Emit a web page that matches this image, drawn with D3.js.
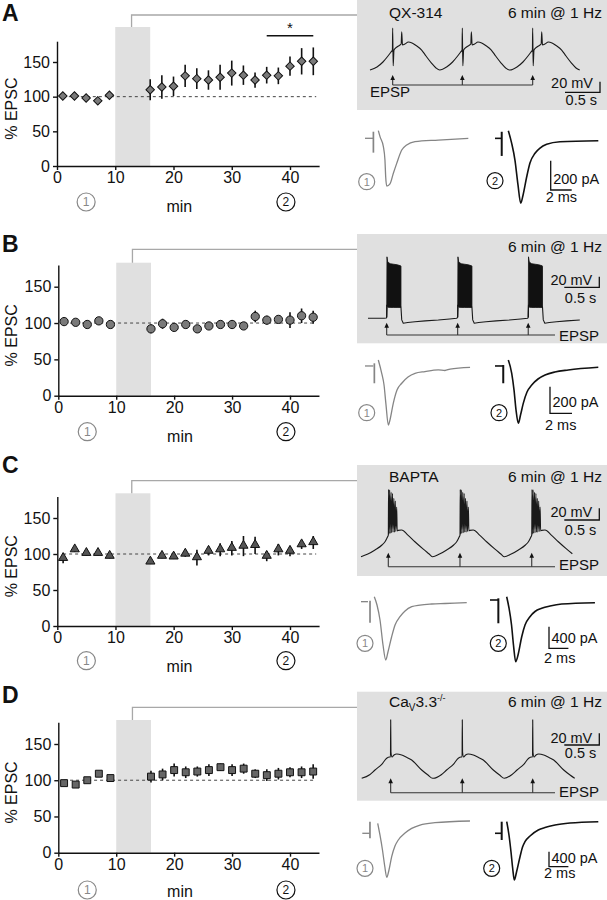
<!DOCTYPE html>
<html><head><meta charset="utf-8">
<script src="https://cdn.jsdelivr.net/npm/d3@7/dist/d3.min.js"></script>
<style>
body{margin:0;background:#fff}
svg{display:block}
text{font-family:"Liberation Sans",Arial,Helvetica,sans-serif;fill:#111}
</style>
</head><body>
<svg id="c" width="607" height="900"></svg>
<script>
// ================= DATA =================
const minutes = [1,3,5,7,9,16,18,20,22,24,26,28,30,32,34,36,38,40,42,44];
const epscQX    = [101,101,98,94,102,110,114,115,130,126,124,128,134,131,124,131,130,144,151,151];
const semQX     = [3,3,3,3,3,15,17,14,16,15,14,18,18,14,11,12,12,14,19,20];
const epscCtrl  = [102,101,98,103,98,92,99,94,98,92,96,98,98,96,109,104,105,104,110,108];
const semCtrl   = [3,3,3,3,3,6,7,4,4,4,4,4,6,4,8,6,5,11,10,9];
const epscBAPTA = [94,106,101,101,97,89,97,96,100,95,104,106,108,111,112,97,106,104,113,116];
const semBAPTA  = [7,3,3,3,3,3,3,3,4,11,6,9,10,14,12,7,8,7,6,9];
const epscCav   = [96,94,100,109,103,105,108,114,111,112,114,118,114,116,109,107,109,111,111,112];
const semCav    = [3,3,3,3,3,8,8,9,8,7,8,5,8,7,6,8,8,7,8,10];

const xTicks = [0,10,20,30,40];
const yTicks = [0,50,100,150];
const stimWindow = [10,16];      // min, 6 min @ 1 Hz
const sigRange = [36,44];        // * bar in A
const panelLabels = ['A','B','C','D'];
const conditionLabels = ['QX-314','','BAPTA','CaV3.3'];
const stimText = '6 min @ 1 Hz';

// membrane potential templates [s relative to EPSP, mV]
const cycleQX = [[-0.324,-70],[-0.224,-64.3],[-0.139,-54.9],[-0.067,-43.6],[-0.024,-36],[-0.004,-32.3],[0,9],[0.007,-62],[0.019,-32.3],[0.061,-26.6],[0.104,-22.8],[0.121,-20.9],[0.129,2],[0.14,-22.8],[0.176,-21],[0.223,-17.2],[0.276,-19],[0.333,-23.8],[0.414,-32.3],[0.476,-43.6],[0.557,-57.4],[0.619,-66.2],[0.672,-70]];
const spikesQX = [0.324,1.319,2.324];
const leadCtrl = [[0,-65],[0.23,-65],[0.262,-64.5]];
const cycleCtrl = [[0,-63],[0.004,-40],[0.2,-44],[0.204,-44],[0.215,-68],[0.237,-74.4],[0.3,-73],[0.404,-71.4],[0.55,-69.8],[0.737,-68.2],[0.9,-66.3],[1.0,-65]];
const burstCtrl = [[0,-63,-63],[0.004,51,-40],[0.015,41,-44],[0.05,38,-44.5],[0.1,37,-44.5],[0.15,36,-44.5],[0.2,34,-44],[0.204,33,-44]];
const spikesCtrl = [0.267,1.281,2.289];
const cycleBAPTA = [[-0.39,-70],[-0.3,-66],[-0.19,-58.5],[-0.09,-50],[-0.047,-44.4],[-0.01,-36],[0,-33],[0.004,45],[0.01,-31],[0.02,44],[0.027,-30],[0.04,40],[0.047,-29],[0.06,38],[0.067,-28],[0.08,30],[0.087,-28],[0.1,25],[0.107,-27],[0.12,15],[0.127,-26],[0.14,-25],[0.19,-24.4],[0.28,-33],[0.38,-44.4],[0.5,-57],[0.58,-65],[0.63,-70]];
const spikesBAPTA = [0.39,1.414,2.439];
const cycleCav = [[-0.414,-70],[-0.3,-64],[-0.224,-55.8],[-0.124,-45.6],[-0.057,-35.8],[-0.017,-33.6],[-0.003,-33.6],[0,30],[0.004,-25],[0.019,-33.6],[0.047,-30.2],[0.086,-28.5],[0.157,-30.2],[0.219,-33.6],[0.3,-38.7],[0.443,-55.8],[0.533,-64.4],[0.6,-70]];
const spikesCav = [0.414,1.437,2.443];

// EPSC traces [ms, pA]; stub = artifact, bar = [ms, top, bottom]
const epscA1 = {stub:[[0,0],[0.8,0]], bar:[0.8,45,-98], trace:[[1.27,52],[1.43,11],[1.75,-57],[1.9,-148],[1.97,-262],[2.07,-326],[2.38,-311],[2.7,-239],[3.02,-171],[3.5,-80],[3.97,-46],[4.76,-23],[6.98,-12],[9.84,0]]};
const epscA2 = {stub:[[0,16],[0.64,16]], bar:[0.64,61,-104], trace:[[1.27,68],[1.59,-18],[1.9,-132],[2.19,-302],[2.45,-427],[2.67,-372],[3.02,-246],[3.33,-152],[3.81,-86],[4.29,-50],[4.92,-25],[6.19,-7],[9.84,0]]};
const epscB1 = {stub:[[0,10],[0.75,10]], bar:[0.85,30,-120], trace:[[1.21,55],[1.52,-45],[1.73,-133],[1.91,-283],[2.12,-434],[2.27,-396],[2.57,-271],[2.91,-171],[3.34,-120],[3.91,-73],[4.55,-45],[5.45,-32],[6.66,-20],[7.27,-24],[7.73,-13],[9.55,0]]};
const epscB2 = {stub:[[0,10],[0.75,10]], bar:[0.75,17,-120], trace:[[1.21,55],[1.52,-45],[1.73,-171],[1.91,-320],[2.12,-421],[2.32,-359],[2.57,-271],[2.91,-186],[3.34,-133],[3.91,-88],[4.55,-58],[5.45,-35],[6.66,-20],[9.39,0]]};
const epscC1 = {stub:[[0,19],[0.72,19]], bar:[0.93,37,-370], trace:[[1.37,111],[1.65,-43],[1.96,-320],[2.27,-783],[2.55,-1061],[2.78,-913],[3.16,-630],[3.51,-413],[4.02,-259],[4.54,-154],[5.23,-74],[6.08,-43],[7.29,-24],[8.66,-15],[10.9,0]]};
const epscC2 = {stub:[[0,50],[0.86,50]], bar:[0.86,81,-381], trace:[[1.72,111],[1.96,-98],[2.22,-413],[2.42,-783],[2.65,-1093],[2.89,-969],[3.27,-630],[3.61,-413],[4.12,-259],[4.64,-163],[5.33,-104],[6.19,-61],[7.39,-24],[10.82,0]]};
const epscD1 = {stub:[[0,-328],[0.79,-328]], bar:[0.79,-19,-461], trace:[[1.59,-61],[1.82,-373],[2.08,-773],[2.31,-1200],[2.52,-1501],[2.75,-1307],[3.03,-952],[3.37,-667],[3.71,-507],[4.4,-320],[5.09,-195],[5.95,-107],[7.49,-45],[11.1,0]]};
const epscD2 = {stub:[[0,-309],[0.69,-309]], bar:[0.69,0,-488], trace:[[1.21,0],[1.44,-355],[1.65,-808],[1.82,-1235],[1.99,-1555],[2.22,-1341],[2.58,-933],[2.84,-675],[3.09,-533],[3.61,-381],[4.46,-221],[5.15,-155],[6.19,-88],[7.73,-35],[10.65,0]]};

// ================= LAYOUT =================
const BOX_L = 357, BOX_R = 607, PX_PER_S = 70;
const panels = [
 {label:'A', vals:epscQX, sem:semQX, shape:'diamond', fill:'#7a7a7a', labelY:21,
  x0:57, x40:290, y0:166, y150:62, barTop:27, connY:15, circY:202, minY:212, sig:true,
  box:[0,110], title:{y:18.3}, stimY:18.3,
  tr:{cycle:cycleQX, spikes:spikesQX, xStart:370, tEnd:3.0, vRef:-70, yRef:70, pxmv:0.53},
  arrows:{tip:75, base:85, toEnd:false, epspX:370, epspY:96.7},
  sb:{x:600, y:92.3, t1:88.3, t2:105},
  ep:{c1:epscA1, c2:epscA2, pxms:10.5, pxpa:0.1465, o1:[365,138.3], o2:[495,140.7], circ1:[366.7,181.7], circ2:[495,180.7], barX:550.7, barY:190, pA:200, tpA:184, tms:201.7}},
 {label:'B', vals:epscCtrl, sem:semCtrl, shape:'circle', fill:'#7a7a7a', labelY:252,
  x0:58.3, x40:290, y0:395.7, y150:286.7, barTop:262.7, connY:249.3, circY:431.7, minY:442, sig:false,
  box:[234,343.3], title:null, stimY:251.7,
  tr:{cycle:cycleCtrl, lead:leadCtrl, burst:burstCtrl, spikes:spikesCtrl, xStart:368, tEnd:3.05, vRef:-65, yRef:318.3, pxmv:0.53},
  arrows:{tip:322.7, base:335, toEnd:true, epspY:340.7},
  sb:{x:599.3, y:287.3, t1:285, t2:302.7},
  ep:{c1:epscB1, c2:epscB2, pxms:11, pxpa:0.133, o1:[365,367.3], o2:[495,367.3], circ1:[366.7,412.7], circ2:[499,412.7], barX:550, barY:413.3, pA:200, tpA:406.7, tms:430}},
 {label:'C', vals:epscBAPTA, sem:semBAPTA, shape:'triangle', fill:'#555', labelY:473,
  x0:57.3, x40:290, y0:626, y150:518, barTop:493.3, connY:480.7, circY:660.7, minY:672, sig:false,
  box:[465,576], title:{y:481.7}, stimY:481.7,
  tr:{cycle:cycleBAPTA, spikes:spikesBAPTA, xStart:361, tEnd:3.057, vRef:-70, yRef:556.7, pxmv:0.585},
  arrows:{tip:552.7, base:566.7, toEnd:true, epspY:570},
  sb:{x:599.3, y:520, t1:516.7, t2:535},
  ep:{c1:epscC1, c2:epscC2, pxms:9.7, pxpa:0.054, o1:[361,602.7], o2:[490,602.7], circ1:[365,643.3], circ2:[498.3,643.3], barX:549, barY:648.3, pA:400, tpA:643.3, tms:663.3}},
 {label:'D', vals:epscCav, sem:semCav, shape:'square', fill:'#666', labelY:703,
  x0:58.3, x40:290, y0:852.7, y150:744, barTop:720, connY:707.3, circY:890, minY:897, sig:false,
  box:[691.7,800.7], title:{y:707.3}, stimY:707.3,
  tr:{cycle:cycleCav, spikes:spikesCav, xStart:361.7, tEnd:3.047, vRef:-70, yRef:778.3, pxmv:0.585},
  arrows:{tip:778.3, base:792.7, toEnd:true, epspY:796.7},
  sb:{x:599.3, y:745, t1:742.7, t2:758.3},
  ep:{c1:epscD1, c2:epscD2, pxms:9.7, pxpa:0.0375, o1:[362.3,821], o2:[495,821.7], circ1:[365,868.3], circ2:[491.7,868.3], barX:549, barY:866.7, pA:400, tpA:863.3, tms:878.3}}
];

const svg = d3.select('#c');

function circled(g, cx, cy, r, txt, col, fs){
  g.append('circle').attr('cx',cx).attr('cy',cy).attr('r',r).attr('fill','none').attr('stroke',col).attr('stroke-width',1.2);
  g.append('text').attr('x',cx).attr('y',cy).attr('dy','0.36em').attr('text-anchor','middle')
   .style('font-size',fs+'px').style('fill',col).text(txt);
}

function drawPanel(p, i){
  const g = svg.append('g');
  const x = d3.scaleLinear().domain([0,40]).range([p.x0,p.x40]);
  const yb = d3.scaleLinear().domain([0,150]).range([p.y0,p.y150]);
  const y = d3.scaleLinear().domain([0,180]).range([p.y0, yb(180)]);
  const xa = d3.scaleLinear().domain([0,45]).range([p.x0, x(45)]);

  // grey trace box
  g.append('rect').attr('x',BOX_L).attr('y',p.box[0]).attr('width',BOX_R-BOX_L).attr('height',p.box[1]-p.box[0]).attr('fill','#e0e0e0');
  // stim bar
  g.append('rect').attr('x',x(stimWindow[0])).attr('y',p.barTop).attr('width',x(stimWindow[1])-x(stimWindow[0])).attr('height',p.y0-p.barTop).attr('fill','#e0e0e0');
  // connector
  const mid = (stimWindow[0]+stimWindow[1])/2 - 0.2;
  g.append('path').attr('d',`M${x(mid)},${p.barTop}V${p.connY}H${BOX_L}`).attr('fill','none').attr('stroke','#a8a8a8').attr('stroke-width',1.3);

  // panel label
  g.append('text').attr('x',2).attr('y',p.labelY).style('font-size','23px').style('font-weight','bold').text(p.label);

  // dashed 100 %
  g.append('line').attr('x1',x(1)).attr('x2',x(44.5)).attr('y1',y(100)).attr('y2',y(100))
    .attr('stroke','#444').attr('stroke-width',1).attr('stroke-dasharray','3,3');

  // axes
  const ax = g.append('g').attr('transform',`translate(0,${p.y0})`)
    .call(d3.axisBottom(xa).tickValues(xTicks).tickSize(4).tickSizeOuter(0).tickPadding(2));
  const ay = g.append('g').attr('transform',`translate(${p.x0},0)`)
    .call(d3.axisLeft(y).tickValues(yTicks).tickSize(4).tickSizeOuter(0).tickPadding(3));
  [ax,ay].forEach(a=>{
    a.selectAll('path,line').attr('stroke','#111').attr('stroke-width',1.4);
    a.selectAll('text').style('font-size','16px').style('fill','#111').attr('font-family',null);
  });
  g.append('text').attr('transform',`translate(16.5,${(p.y0+y(180))/2+5}) rotate(-90)`)
    .attr('text-anchor','middle').style('font-size','16px').text('% EPSC');
  g.append('text').attr('x',x(21)).attr('y',p.minY).attr('text-anchor','middle').style('font-size','16px').text('min');
  circled(g, x(5), p.circY, 9, '1', '#888', 12);
  circled(g, x(39.3), p.circY, 9, '2', '#111', 12);

  // error bars
  g.selectAll(null).data(minutes).join('line')
    .attr('x1',(d)=>x(d)).attr('x2',(d)=>x(d))
    .attr('y1',(d,j)=>y(p.vals[j]+p.sem[j])).attr('y2',(d,j)=>y(p.vals[j]-p.sem[j]))
    .attr('stroke','#111').attr('stroke-width',1.6);
  // markers
  const types = {diamond:[d3.symbolSquare,36,45], circle:[d3.symbolCircle,54,0], triangle:[d3.symbolTriangle,36,0], square:[d3.symbolSquare,48,0]};
  const [tp,sz,rot] = types[p.shape];
  g.selectAll(null).data(minutes).join('path')
    .attr('d', d3.symbol().type(tp).size(sz))
    .attr('transform',(d,j)=>`translate(${x(d)},${y(p.vals[j]) + (p.shape==='triangle'?-0.5:0)}) rotate(${rot})`)
    .attr('fill',p.fill).attr('stroke','#111').attr('stroke-width',1);

  if (p.sig){
    g.append('line').attr('x1',x(sigRange[0])).attr('x2',x(sigRange[1])).attr('y1',35.7).attr('y2',35.7).attr('stroke','#111').attr('stroke-width',1.4);
    g.append('text').attr('x',x((sigRange[0]+sigRange[1])/2)).attr('y',33).attr('text-anchor','middle').style('font-size','15px').text('*');
  }

  // box texts
  g.append('text').attr('x',602).attr('y',p.stimY).attr('text-anchor','end').style('font-size','15.5px').text(stimText);
  if (p.title){
    const t = g.append('text').attr('x',389).attr('y',p.title.y).style('font-size','15.5px');
    if (i===3){
      t.append('tspan').text('Ca');
      t.append('tspan').attr('dy',4).style('font-size','10px').text('V');
      t.append('tspan').attr('dy',-4).text('3.3');
      t.append('tspan').attr('dy',-6).style('font-size','9px').text('-/-');
    } else t.text(conditionLabels[i]);
  }

  // membrane trace
  const tr = p.tr;
  const xs = d3.scaleLinear().domain([0,1]).range([tr.xStart, tr.xStart+PX_PER_S]);
  const ys = d3.scaleLinear().domain([tr.vRef, tr.vRef+20]).range([tr.yRef, tr.yRef-20*tr.pxmv]);
  const pts = [];
  (tr.lead||[]).forEach(d=>pts.push(d));
  tr.spikes.forEach(ts => tr.cycle.forEach(([dt,v])=>{const tt=ts+dt; if(tt>=0 && tt<=tr.tEnd) pts.push([tt,v]);}));
  for (let k=1;k<pts.length;k++) if (pts[k][0] <= pts[k-1][0]) pts[k][0] = pts[k-1][0] + 0.0005;
  g.append('path').attr('d',d3.line().curve(tr.burst ? d3.curveLinear : d3.curveMonotoneX).x(d=>xs(d[0])).y(d=>ys(d[1]))(pts))
    .attr('fill','none').attr('stroke','#1a1a1a').attr('stroke-width',1.1).attr('stroke-linejoin','round');
  if (tr.burst){
    tr.spikes.forEach(ts=>{
      g.append('path').attr('d', d3.area().x(d=>xs(ts+d[0])).y0(d=>ys(d[2])).y1(d=>ys(d[1]))(tr.burst))
        .attr('fill','#111').attr('stroke','#111').attr('stroke-width',0.8);
    });
  }
  // EPSP arrows
  const A = p.arrows;
  const axp = tr.spikes.map(ts=>xs(ts));
  const endX = A.toEnd ? 555 : axp[axp.length-1];
  g.append('path').attr('d',`M${axp[0]},${A.base}H${endX}`).attr('stroke','#333').attr('stroke-width',1.1).attr('fill','none');
  axp.forEach(ax0=>{
    g.append('line').attr('x1',ax0).attr('x2',ax0).attr('y1',A.base).attr('y2',A.tip+3).attr('stroke','#333').attr('stroke-width',1.1);
    g.append('path').attr('d',`M${ax0},${A.tip}L${ax0-2.3},${A.tip+5}L${ax0+2.3},${A.tip+5}Z`).attr('fill','#111');
  });
  if (A.toEnd) g.append('text').attr('x',559).attr('y',A.epspY).style('font-size','15px').text('EPSP');
  else g.append('text').attr('x',A.epspX).attr('y',A.epspY).style('font-size','15px').text('EPSP');

  // voltage scale bar
  const sb = p.sb, hLen = 0.5*PX_PER_S, vLen = 20*tr.pxmv;
  g.append('path').attr('d',`M${sb.x-hLen},${sb.y}H${sb.x}V${sb.y-vLen}`).attr('fill','none').attr('stroke','#111').attr('stroke-width',1.3);
  g.append('text').attr('x',sb.x-7).attr('y',sb.t1).attr('text-anchor','end').style('font-size','14.5px').text('20 mV');
  g.append('text').attr('x',sb.x-3).attr('y',sb.t2).attr('text-anchor','end').style('font-size','14.5px').text('0.5 s');

  // EPSCs
  const ep = p.ep;
  [[ep.c1, ep.o1, '#858585', 1.3],[ep.c2, ep.o2, '#111', 1.6]].forEach(([tr2,o,col,w])=>{
    const ex = d3.scaleLinear().domain([0,10]).range([o[0], o[0]+10*ep.pxms]);
    const ey = d3.scaleLinear().domain([0,-1000]).range([o[1], o[1]+1000*ep.pxpa]);
    const ln = d3.line().x(d=>ex(d[0])).y(d=>ey(d[1]));
    g.append('path').attr('d',ln(tr2.stub)).attr('stroke',col).attr('stroke-width',w).attr('fill','none');
    g.append('line').attr('x1',ex(tr2.bar[0])).attr('x2',ex(tr2.bar[0])).attr('y1',ey(tr2.bar[1])).attr('y2',ey(tr2.bar[2])).attr('stroke',col).attr('stroke-width',w+0.4);
    g.append('path').attr('d',ln.curve(d3.curveMonotoneX)(tr2.trace)).attr('stroke',col).attr('stroke-width',w).attr('fill','none').attr('stroke-linejoin','round');
  });
  circled(g, ep.circ1[0], ep.circ1[1], 8, '1', '#888', 11);
  circled(g, ep.circ2[0], ep.circ2[1], 8, '2', '#111', 11);
  const vpx = ep.pA*ep.pxpa, hpx = 2*ep.pxms;
  g.append('path').attr('d',`M${ep.barX},${ep.barY-vpx}V${ep.barY}H${ep.barX+hpx}`).attr('fill','none').attr('stroke','#111').attr('stroke-width',1.3);
  g.append('text').attr('x',ep.barX+2.5).attr('y',ep.tpA).style('font-size','14.5px').text(ep.pA+' pA');
  g.append('text').attr('x',ep.barX-5).attr('y',ep.tms).style('font-size','14.5px').text('2 ms');
}

panels.forEach(drawPanel);
</script>
</body></html>
